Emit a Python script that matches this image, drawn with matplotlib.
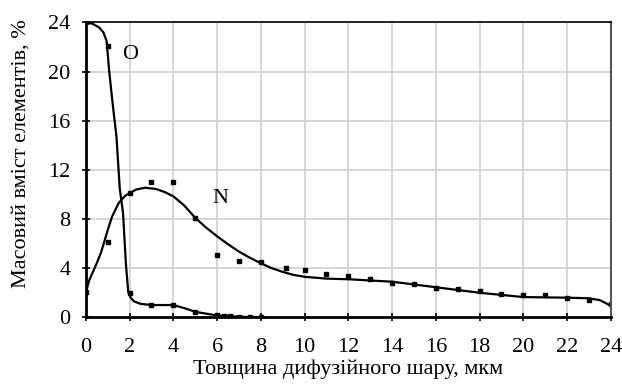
import matplotlib
matplotlib.use('Agg')
import matplotlib.pyplot as plt

# measured points (markers)
o_x = [0, 1, 2, 3, 4, 5, 6, 6.3, 6.6, 7, 7.5, 8]
o_y = [24, 22.1, 2.0, 1.0, 1.0, 0.4, 0.15, 0.1, 0.1, 0.05, 0.05, 0.0]
n_x = [0, 1, 2, 3, 4, 5, 6, 7, 8, 9.15, 10, 11, 12, 13, 14, 15, 16, 17, 18, 19, 20, 21, 22, 23, 24]
n_y = [2.05, 6.1, 10.1, 11.0, 11.0, 8.1, 5.05, 4.6, 4.5, 4.05, 3.85, 3.5, 3.4, 3.1, 2.8, 2.7,
       2.4, 2.3, 2.15, 1.9, 1.8, 1.85, 1.6, 1.45, 1.05]

# smoothed trend lines
o_line_x = [0, 0.3, 0.6, 0.8, 0.95, 1.07, 1.2, 1.4, 1.55, 1.7, 1.83, 1.94, 2.05, 2.2, 2.5,
            3, 4, 4.5, 5, 5.5, 6, 7, 8]
o_line_y = [24, 23.9, 23.6, 23.2, 22.5, 20.0, 17.8, 14.7, 10.5, 8.5, 4.4, 2.05, 1.6, 1.3, 1.1,
            1.0, 1.0, 0.75, 0.45, 0.3, 0.15, 0.05, 0.0]
n_line_x = [0, 0.15, 0.3, 0.5, 0.7, 0.85, 1, 1.2, 1.5, 1.8, 2, 2.3, 2.7, 3.2, 3.6, 4, 4.5, 5,
            5.5, 6, 6.5, 7, 7.5, 8, 8.5, 9, 9.5, 10, 11, 12, 14, 16, 18, 20, 22, 23, 23.5, 24]
n_line_y = [2.0, 3.0, 3.6, 4.4, 5.3, 6.2, 7.1, 8.2, 9.3, 9.9, 10.1, 10.4, 10.55, 10.45, 10.2,
            9.85, 9.1, 8.1, 7.3, 6.6, 5.95, 5.35, 4.85, 4.4, 4.0, 3.7, 3.45, 3.3, 3.15, 3.1,
            2.9, 2.45, 2.0, 1.65, 1.6, 1.55, 1.4, 0.95]

plt.rcParams['font.family'] = ['Liberation Serif', 'DejaVu Serif']

fig = plt.figure(figsize=(6.22, 3.87), dpi=100)
ax = fig.add_axes([0.138, 0.18, 0.844, 0.762])

ax.plot(o_line_x, o_line_y, color='black', lw=1.6)
ax.plot(n_line_x, n_line_y, color='black', lw=1.6)
ax.plot(o_x, o_y, 's', color='black', ms=3.5)
ax.plot(n_x, n_y, 's', color='black', ms=3.5)

ax.text(1.65, 21.4, 'O', fontsize=16, va='center', ha='left')
ax.text(5.8, 9.7, 'N', fontsize=16, va='center', ha='left')

ax.set_xlim(0, 24)
ax.set_ylim(0, 24)
ax.set_xticks(range(0, 25, 2))
ax.set_yticks(range(0, 25, 4))
ax.grid(True, color='#d0d0d0', lw=1.2)
ax.set_axisbelow(True)
ax.tick_params(direction='inout', length=6, width=1.2, labelsize=16)
ax.tick_params(axis='x', pad=12)
ax.tick_params(axis='y', pad=8)

ax.spines['left'].set_linewidth(2)
ax.spines['bottom'].set_linewidth(2)
ax.spines['top'].set_linewidth(1.2)
ax.spines['right'].set_linewidth(1.5)
ax.spines['right'].set_color('#555555')

ax.set_xlabel('Товщина дифузійного шару, мкм', fontsize=16, labelpad=2)
ax.set_ylabel('Масовий вміст елементів, %', fontsize=16)
ax.yaxis.set_label_coords(-0.105, 0.556)

fig.savefig('out.png', dpi=100)
